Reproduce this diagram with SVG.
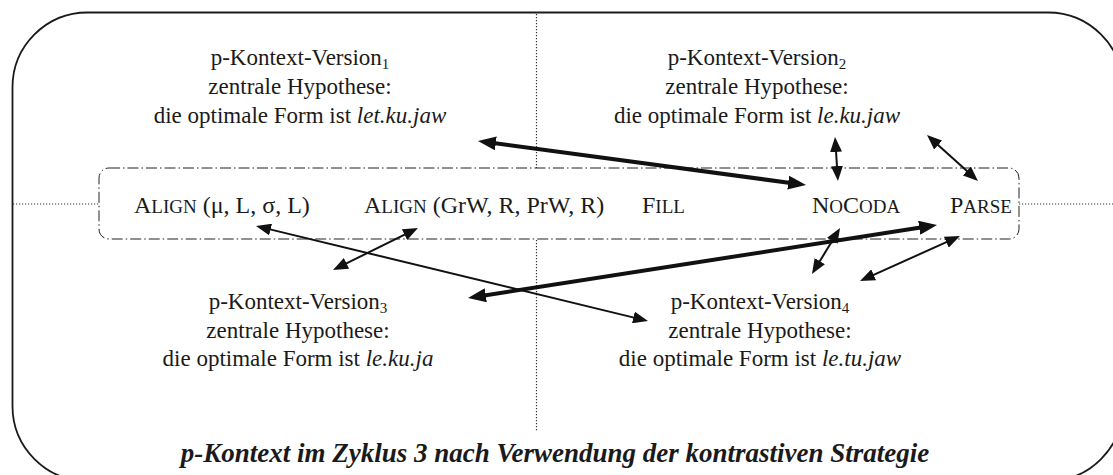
<svg xmlns="http://www.w3.org/2000/svg" width="1113" height="475" viewBox="0 0 1113 475">
<style>
text{font-family:"Liberation Serif","Times New Roman",serif;font-size:23px;fill:#1a1a1a}
.n{text-anchor:middle}
.row{font-size:24px}
.sc{font-size:19px}
.sub{font-size:15px}
.it{font-style:italic}
.cap{font-size:27px;font-weight:bold;font-style:italic;text-anchor:middle}
.thick{stroke:#111;stroke-width:4;fill:none;marker-start:url(#hT);marker-end:url(#hT)}
.thin{stroke:#111;stroke-width:2;fill:none;marker-start:url(#hS);marker-end:url(#hS)}
.dot{stroke:#333;stroke-width:1.2;stroke-dasharray:1.2 1.8;fill:none}
</style>
<defs>
<marker id="hT" markerUnits="userSpaceOnUse" viewBox="0 0 18 14" markerWidth="18" markerHeight="14" refX="8" refY="7" orient="auto-start-reverse"><path d="M0,0 L18,7 L0,14 Z" fill="#111"/></marker>
<marker id="hS" markerUnits="userSpaceOnUse" viewBox="0 0 15 12" markerWidth="15" markerHeight="12" refX="8" refY="6" orient="auto-start-reverse"><path d="M0,0 L15,6 L0,12 Z" fill="#111"/></marker>
</defs>
<rect id="frame" x="12.5" y="12.5" width="1110.5" height="468.5" rx="75" ry="75" fill="none" stroke="#1a1a1a" stroke-width="1.8"/>
<g id="guides">
<line class="dot" x1="536.5" y1="14" x2="536.5" y2="168"/>
<line class="dot" x1="536.5" y1="240" x2="536.5" y2="432"/>
<line class="dot" x1="13" y1="204" x2="99" y2="204"/>
<line class="dot" x1="1019" y1="204" x2="1113" y2="204"/>
</g>
<g id="constraints">
<rect x="99" y="168" width="920" height="71" rx="10" ry="10" fill="none" stroke="#222" stroke-width="1" stroke-dasharray="11 3 1.5 3"/>
<text class="row" x="134" y="213">A<tspan class="sc">LIGN</tspan> (μ, L, σ, L)</text>
<text class="row" x="364" y="213">A<tspan class="sc">LIGN</tspan> (GrW, R, PrW, R)</text>
<text class="row" x="642" y="213">F<tspan class="sc">ILL</tspan></text>
<text class="row" x="812" y="213">N<tspan class="sc">O</tspan>C<tspan class="sc">ODA</tspan></text>
<text class="row" x="950" y="213">P<tspan class="sc">ARSE</tspan></text>
</g>
<g id="version1">
<text class="n" x="300" y="65">p-Kontext-Version<tspan class="sub" dy="4">1</tspan></text>
<text class="n" x="300" y="94">zentrale Hypothese:</text>
<text class="n" x="300" y="123">die optimale Form ist <tspan class="it">let.ku.jaw</tspan></text>
</g>
<g id="version2">
<text class="n" x="757" y="65">p-Kontext-Version<tspan class="sub" dy="4">2</tspan></text>
<text class="n" x="757" y="94">zentrale Hypothese:</text>
<text class="n" x="757" y="123">die optimale Form ist <tspan class="it">le.ku.jaw</tspan></text>
</g>
<g id="version3">
<text class="n" x="298" y="309">p-Kontext-Version<tspan class="sub" dy="4">3</tspan></text>
<text class="n" x="298" y="338">zentrale Hypothese:</text>
<text class="n" x="298" y="366">die optimale Form ist <tspan class="it">le.ku.ja</tspan></text>
</g>
<g id="version4">
<text class="n" x="760" y="309">p-Kontext-Version<tspan class="sub" dy="4">4</tspan></text>
<text class="n" x="760" y="338">zentrale Hypothese:</text>
<text class="n" x="760" y="366">die optimale Form ist <tspan class="it">le.tu.jaw</tspan></text>
</g>
<g id="connectors">
<line class="thick" x1="487.9" y1="142.3" x2="796.1" y2="183.7"/>
<line class="thick" x1="477.9" y1="296.5" x2="927.1" y2="226.5"/>
<line class="thin" x1="835.5" y1="144" x2="837.5" y2="174"/>
<line class="thin" x1="932.2" y1="139.7" x2="972.8" y2="176.3"/>
<line class="thin" x1="836.4" y1="234" x2="815.6" y2="268"/>
<line class="thin" x1="953.6" y1="238.9" x2="866.4" y2="278.1"/>
<line class="thin" x1="262.8" y1="227.6" x2="641.2" y2="319.4"/>
<line class="thin" x1="411.7" y1="231.1" x2="339.3" y2="266.9"/>
</g>
<text class="cap" x="555" y="462">p-Kontext im Zyklus 3 nach Verwendung der kontrastiven Strategie</text>
</svg>
